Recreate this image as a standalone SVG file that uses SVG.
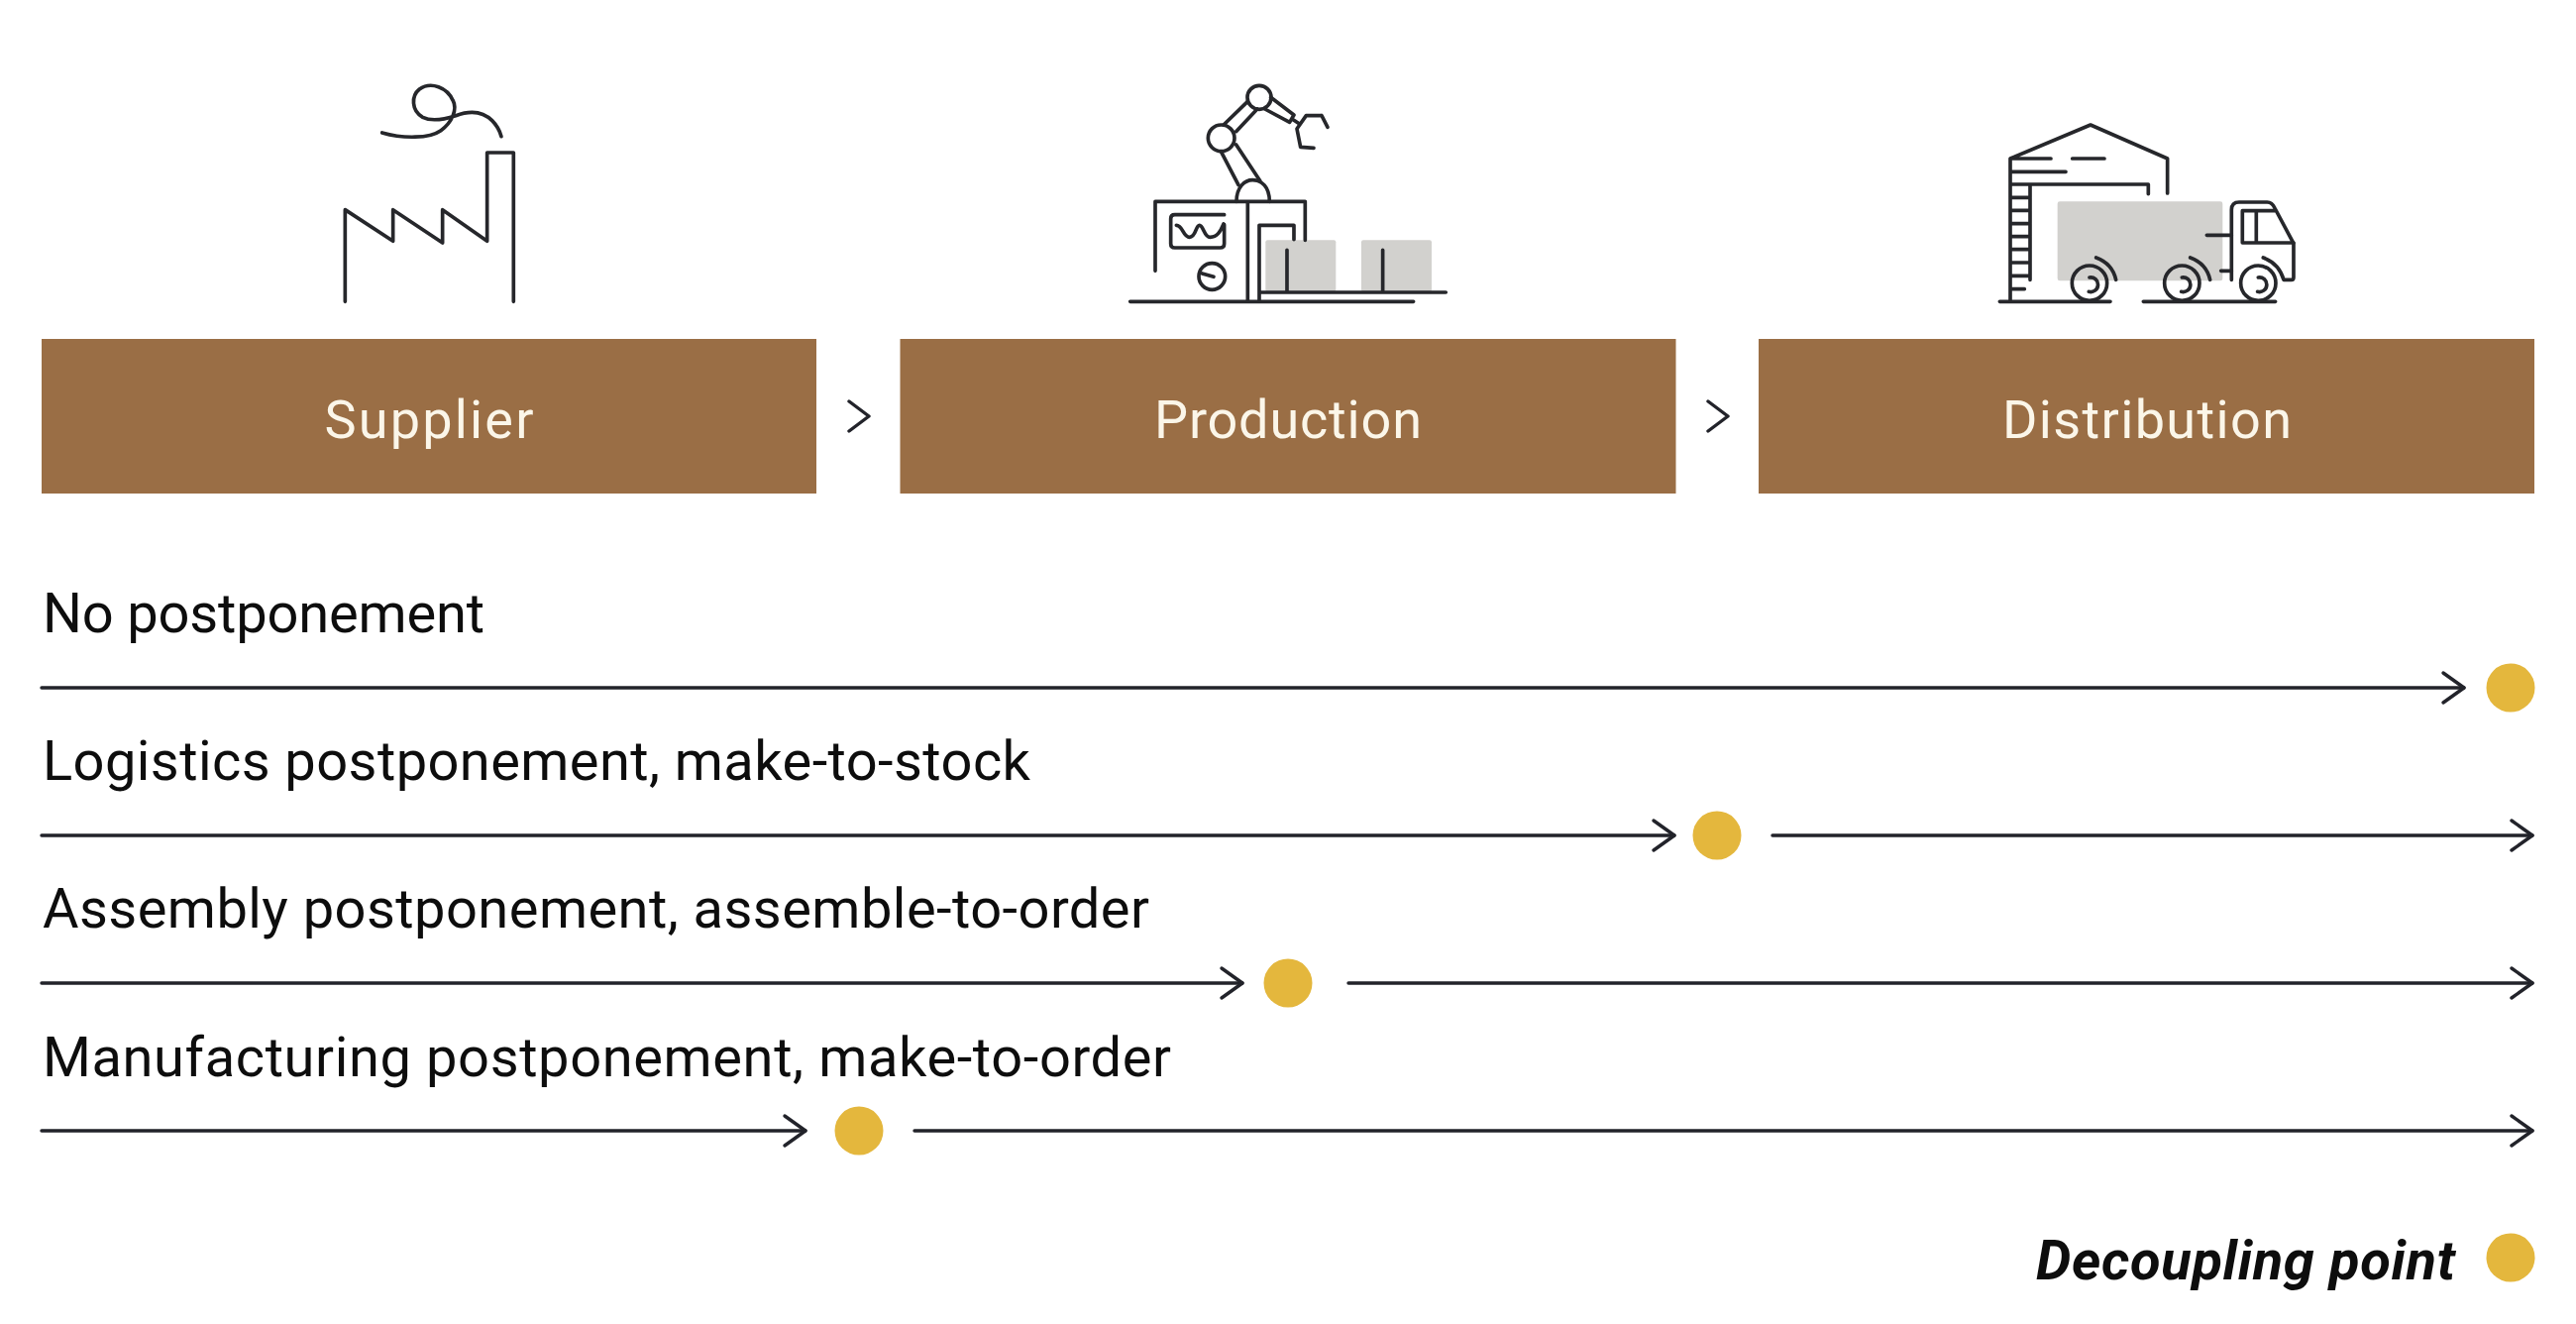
<svg xmlns="http://www.w3.org/2000/svg" width="2600" height="1336" viewBox="0 0 2600 1336">
<style>
text{font-family:Roboto,"Liberation Sans",sans-serif}
.box{fill:#9A6E45}
.bt{fill:#FBF6E9;font-size:54px;text-anchor:middle}
.lb{fill:#0d0d0d;font-size:56px}
.dp{fill:#E4B73D}
.ln{fill:none;stroke:#22232A;stroke-width:3.4;stroke-linecap:round}
.ic{fill:none;stroke:#26272B;stroke-width:11;stroke-linecap:round;stroke-linejoin:round}
.gr{fill:#D2D1CE}
.c{fill:none;stroke:#22232A;stroke-width:3.4;stroke-linecap:round;stroke-linejoin:round}
</style>
<defs>
<marker id="ah" markerUnits="userSpaceOnUse" viewBox="-26 -18 30 36" refX="0" refY="0" markerWidth="30" markerHeight="36" orient="auto"><path d="M-21 -15L0 0L-21 15" fill="none" stroke="#22232A" stroke-width="3.4" stroke-linecap="round" stroke-linejoin="round"/></marker>
</defs>
<rect width="2600" height="1336" fill="#fff"/>
<g id="supplier">
<g class="ic" transform="translate(320 60) scale(.3333)">
<path d="M85 733V455L230 550V455L380 555V455L515 550V282H595V733"/>
<path d="M197 222C260 240 340 240 375 215C410 190 425 150 412 125C395 85 345 65 310 90C285 110 285 155 320 175C350 190 390 180 420 170C460 155 500 155 530 185C545 200 553 215 558 233"/>
</g>
<rect class="box" x="42" y="342" width="782" height="156"/>
<text class="bt" x="433" y="442" textLength="211">Supplier</text>
</g>
<g id="production">
<g transform="translate(1120 70) scale(.3333)">
<rect class="gr" x="472" y="517" width="213" height="156" rx="6"/>
<rect class="gr" x="762" y="517" width="213" height="156" rx="6"/>
<g class="ic">
<path d="M62 703H920M455 675H1018M138 610V400H592V517M418 400V703M453 700V472H558V515M537 547V675M827 547V675"/>
<path d="M384 400C384 355 410 335 433 335C460 335 484 355 484 400"/>
<path d="M390 350L338 250M455 337L383 228M345 168L418 97M383 188L447 120M488 85L558 138L545 160L470 120M552 150L575 165"/>
<circle cx="338" cy="208" r="40"/><circle cx="453" cy="85" r="36"/>
<path d="M642 140H595L567 180L578 235L618 238M642 140L660 175"/>
<path d="M347 440H197Q185 440 185 452V528Q185 540 197 540H335Q347 540 347 528V470"/>
<path d="M202 472C222 472 222 508 242 508C262 508 260 472 272 472C284 472 286 508 304 508C326 508 336 490 345 468"/>
<circle cx="310" cy="627" r="40"/><path d="M280 618L315 628"/>
</g>
</g>
<rect class="box" x="908.5" y="342" width="783" height="156"/>
<text class="bt" x="1300" y="442" textLength="270">Production</text>
</g>
<g id="distribution">
<g transform="translate(2000 110) scale(.3333)">
<rect class="gr" x="230" y="280" width="500" height="240" rx="7"/>
<g class="ic">
<path d="M87 580V150L330 48L563 150V255M87 150H210M275 150H372M87 190H255M87 228H505V257M147 228V517M87 268H147M87 307H147M87 347H147M87 386H147M87 425H147M87 465H147M87 505H147M87 545H130M55 583H390M490 583H890"/>
<circle cx="327" cy="527" r="53"/><circle cx="607" cy="527" r="53"/><circle cx="838" cy="527" r="53"/>
<path d="M327 510A22 22 0 1 1 325 553M607 510A22 22 0 1 1 605 553M838 510A22 22 0 1 1 836 553"/>
<path d="M347 450C380 462 400 485 407 517M632 450C665 462 685 485 692 517M853 450C886 462 906 485 915 517H938Q945 517 945 510V407L888 300Q880 282 865 282H780Q757 282 757 305V517"/>
<path d="M945 405H790V308H888M832 308V405M682 382H757M725 490H757"/>
</g>
</g>
<rect class="box" x="1775" y="342" width="783" height="156"/>
<text class="bt" x="2167" y="442" textLength="292">Distribution</text>
</g>
<g id="connectors">
<path class="c" d="M857 405L877 420L857 435M1724 405L1744 420L1724 435"/>
<g class="ln">
<path d="M42 694H2487" marker-end="url(#ah)"/>
<path d="M42 843H1690" marker-end="url(#ah)"/>
<path d="M1789 843H2556" marker-end="url(#ah)"/>
<path d="M42 992H1254" marker-end="url(#ah)"/>
<path d="M1361 992H2556" marker-end="url(#ah)"/>
<path d="M42 1141H813" marker-end="url(#ah)"/>
<path d="M923 1141H2556" marker-end="url(#ah)"/>
</g>
</g>
<g id="row-none"><text class="lb" x="43" y="638" textLength="446">No postponement</text><circle class="dp" cx="2534" cy="694" r="24.5"/></g>
<g id="row-logistics"><text class="lb" x="43" y="787" textLength="997">Logistics postponement, make-to-stock</text><circle class="dp" cx="1733" cy="843" r="24.5"/></g>
<g id="row-assembly"><text class="lb" x="43" y="936" textLength="1117">Assembly postponement, assemble-to-order</text><circle class="dp" cx="1300" cy="992" r="24.5"/></g>
<g id="row-manufacturing"><text class="lb" x="43" y="1086" textLength="1139">Manufacturing postponement, make-to-order</text><circle class="dp" cx="867" cy="1141" r="24.5"/></g>
<g id="legend"><text x="2055" y="1291" font-size="56" font-weight="700" font-style="italic" fill="#0d0d0d" textLength="423">Decoupling point</text><circle class="dp" cx="2534" cy="1269" r="24.5"/></g>
</svg>
